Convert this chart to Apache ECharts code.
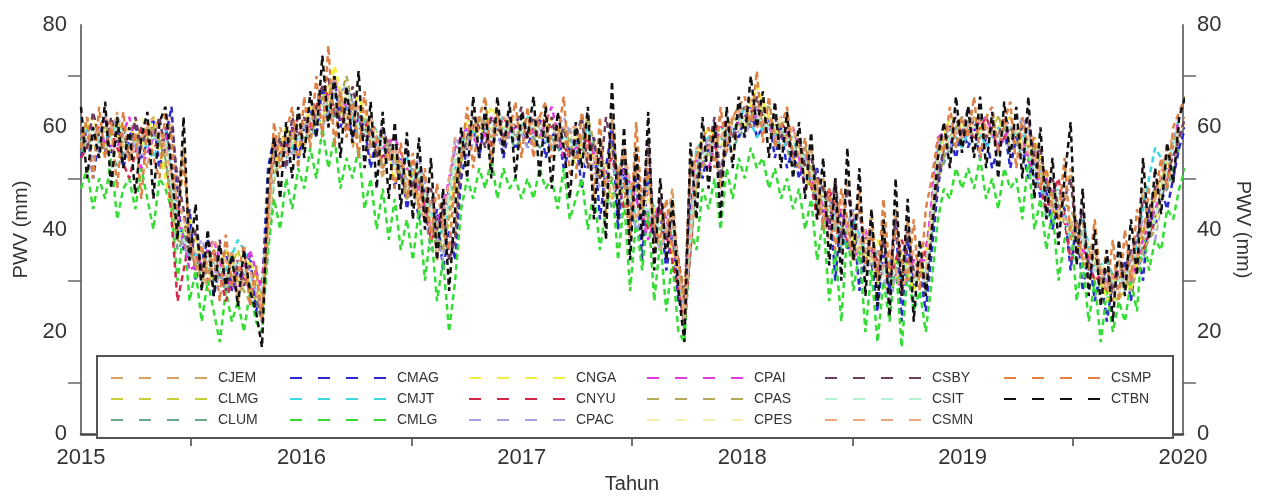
<!DOCTYPE html>
<html>
<head>
<meta charset="UTF-8">
<title>PWV 2015-2020</title>
<script src="https://cdn.jsdelivr.net/npm/echarts@6.0.0/dist/echarts.min.js"></script>
<style>
  html, body { margin: 0; padding: 0; background: #fff; }
  #chart { width: 1262px; height: 499px; }
</style>
</head>
<body>
<div id="chart"></div>
<script>
// axis ticks / labels
const yearLabels = [2015, 2016, 2017, 2018, 2019, 2020];
const yearTicks = [2015.5, 2016.5, 2017.5, 2018.5, 2019.5];
const pwvLabels = [0, 20, 40, 60, 80];
const pwvTicks = [10, 30, 50, 70];

// PWV (mm), one value every 10 days from 2015-01-01
const CJEM = [56,62,58,54,60,58,63,52,57,60,56,52,60,57,58,62,48,56,38,36,33,28,34,31,29,36,26,31,28,30,26,46,52,60,56,58,60,
  56,62,64,66,60,64,62,68,56,60,62,54,56,50,58,54,52,46,52,44,42,46,34,40,36,40,56,60,58,62,60,58,64,56,62,58,60,
  60,56,62,60,56,58,56,60,54,58,60,48,54,48,62,48,56,42,52,42,56,36,44,40,48,32,24,54,48,56,54,58,48,60,54,60,
  62,66,60,62,60,58,60,58,58,56,54,56,44,50,42,46,36,50,42,46,32,44,30,42,28,44,28,42,30,34,32,42,54,58,58,60,62,
  58,62,60,60,58,60,58,58,60,58,60,52,54,46,48,42,46,52,40,42,30,34,30,36,26,34,28,36,32,48,40,46,48,52,50,58,62];
const CMAG = [54,60,50,58,62,55,60,52,58,61,54,57,62,52,58,64,46,36,44,30,34,38,27,33,36,28,32,30,35,24,28,52,58,54,56,60,54,
  60,64,58,68,62,70,60,64,58,62,60,52,58,54,56,48,54,44,50,42,48,38,44,32,40,34,50,56,60,54,62,56,60,54,60,56,60,
  56,60,62,54,58,60,52,56,58,48,56,58,42,52,60,40,52,44,50,34,52,40,44,32,40,26,24,44,54,50,56,58,50,56,60,58,
  62,64,58,60,62,54,60,52,56,50,54,48,52,42,48,30,44,36,42,28,40,34,24,36,28,42,22,38,28,32,24,36,48,56,58,54,60,
  56,60,54,58,52,56,60,52,58,56,50,54,46,48,40,46,44,32,42,28,36,26,32,22,30,28,34,26,36,30,44,40,48,44,50,56,60];
const CMLG = [48,52,44,50,46,54,42,48,50,44,52,46,40,50,48,44,30,40,26,32,22,30,24,18,28,22,26,20,28,22,20,36,46,40,50,44,52,
  48,56,50,60,52,58,48,54,50,56,44,50,40,48,38,46,36,42,34,44,30,40,26,34,20,30,44,50,46,52,48,54,46,52,48,50,46,
  50,46,52,48,50,44,52,42,46,50,40,48,36,44,50,34,46,28,42,32,44,26,38,24,34,20,18,40,36,48,44,50,40,52,46,54,
  50,56,52,54,48,52,46,50,44,48,40,46,34,42,26,36,22,40,28,36,20,32,18,30,22,34,17,32,24,28,20,30,42,48,46,52,48,
  52,48,54,46,50,44,52,48,50,42,54,40,46,36,44,30,38,42,26,34,22,30,18,28,20,26,22,30,24,40,32,38,36,44,42,48,52];
const CSBY = [60,56,63,58,55,62,57,60,54,62,56,60,58,62,55,60,50,44,34,40,32,36,30,38,28,35,32,29,33,28,22,44,54,58,52,62,58,
  62,58,64,68,70,62,64,60,68,62,58,60,54,60,56,58,50,56,48,52,46,48,40,44,34,38,54,58,62,60,56,62,60,58,62,60,64,
  58,62,60,58,62,56,60,54,58,62,52,58,50,62,56,50,54,40,56,44,58,38,46,38,42,34,26,52,50,58,56,62,50,60,58,62,
  64,60,66,62,60,62,58,60,54,58,52,54,50,48,40,50,38,48,40,44,34,40,30,38,30,42,28,40,32,34,28,40,50,56,60,62,58,
  64,60,62,58,60,58,62,60,58,60,62,54,56,48,50,44,46,50,38,44,32,36,30,32,28,32,32,36,38,46,44,48,50,52,54,58,62];
const CSMP = [56,62,50,64,54,61,48,63,53,59,46,61,54,50,63,58,40,54,38,32,37,30,36,26,39,29,31,37,25,33,22,42,61,52,59,64,52,
  66,56,70,58,76,56,67,58,65,54,67,56,58,52,56,48,57,46,55,44,52,38,49,40,36,50,54,64,52,62,66,53,63,57,59,65,54,
  64,54,62,65,54,58,66,51,50,63,56,46,62,43,60,50,49,38,61,44,52,40,38,46,36,34,26,52,54,58,60,52,64,55,62,64,
  66,60,71,57,66,56,60,64,54,52,58,48,50,40,48,36,48,42,34,48,33,40,30,46,32,40,34,30,42,28,44,50,58,55,64,56,62,
  58,66,54,62,64,55,61,65,52,62,56,58,48,52,44,42,54,38,41,34,32,42,30,28,38,26,40,30,44,38,48,46,54,48,60,63,66];
const CTBN = [64,50,60,54,65,48,62,52,60,47,58,63,46,61,64,52,38,62,34,45,28,40,27,37,29,35,25,36,28,24,17,50,58,46,61,50,64,
  54,67,58,74,60,70,54,68,57,71,52,65,48,63,46,61,44,59,42,58,40,54,34,48,28,44,60,50,66,54,64,50,66,55,65,50,63,
  58,66,50,64,48,63,56,46,61,52,64,42,58,38,69,42,60,34,56,38,63,32,50,34,46,28,18,57,42,62,48,61,42,64,52,66,
  58,70,60,67,54,65,52,63,50,61,46,59,42,54,33,50,30,56,34,52,27,44,25,42,23,50,27,46,22,38,27,40,54,61,52,66,55,
  64,54,66,52,63,50,65,54,64,50,66,46,60,42,54,37,50,61,33,48,27,40,25,36,22,38,27,42,31,54,38,52,43,57,49,62,66];

// PWV (mm), one value every 20 days from 2015-01-01
const CLMG = [58,60,56,62,54,60,58,52,40,36,32,34,30,36,28,24,54,56,60,
  62,66,70,60,64,58,56,54,50,52,40,36,48,58,60,62,58,62,
  58,62,56,60,52,58,50,56,46,44,48,40,38,22,50,56,58,60,
  62,66,60,58,56,50,46,40,42,34,36,30,28,32,34,30,54,58,60,
  60,58,62,56,58,54,48,44,40,36,30,28,26,32,38,48,52,60];
const CLUM = [55,58,60,52,58,56,60,54,36,40,30,34,28,32,30,22,50,58,54,
  60,64,62,66,58,60,52,56,46,50,36,40,56,56,62,58,60,56,
  60,56,58,54,60,52,54,44,50,40,42,36,44,20,52,54,58,56,
  60,62,58,60,52,54,44,46,38,40,30,36,30,34,26,28,50,56,58,
  56,60,58,60,54,56,42,46,36,40,28,30,30,36,34,44,48,56];
const CMJT = [62,56,58,60,56,58,54,60,42,34,36,30,32,38,34,26,56,54,58,
  58,62,66,64,60,62,56,52,54,48,44,38,52,60,58,60,62,58,
  62,60,56,58,56,60,52,50,54,42,50,38,40,24,56,58,60,58,
  64,58,62,56,58,50,50,44,36,42,36,32,34,30,30,32,56,60,56,
  62,56,60,58,60,50,46,48,38,42,32,34,28,30,44,56,52,62];
const CNGA = [58,62,54,58,60,56,62,50,38,42,34,30,36,30,34,26,52,60,56,
  64,60,72,62,66,60,58,50,52,46,42,40,50,62,58,64,60,60,
  60,58,62,56,58,54,56,46,48,44,46,42,36,26,54,60,56,62,
  60,68,62,58,60,52,48,42,44,38,34,38,32,36,28,34,54,62,60,
  62,58,60,62,56,58,50,42,42,34,36,26,32,28,40,42,54,58];
const CNYU = [54,58,62,56,50,60,56,58,26,38,32,36,26,34,28,30,54,56,62,
  60,68,64,60,58,62,54,56,48,50,38,42,54,58,62,56,62,58,
  58,62,60,56,54,58,50,54,44,46,40,44,34,22,50,56,62,58,
  62,64,58,62,54,56,42,48,40,36,38,34,30,38,30,36,52,58,60,
  58,62,56,60,58,52,44,50,34,38,30,32,30,34,36,42,50,60];
const CPAC = [60,54,58,62,58,54,58,56,40,34,38,32,30,34,32,24,56,52,58,
  62,60,66,68,62,56,60,52,50,54,44,34,58,54,60,60,56,62,
  56,60,58,62,56,56,48,52,50,40,44,36,42,24,52,58,56,60,
  58,64,60,56,58,54,46,46,38,44,32,36,26,36,32,30,52,56,62,
  60,60,58,56,62,56,46,44,40,38,34,30,28,34,42,38,52,58];
const CPAI = [58,60,57,56,62,52,58,60,44,32,34,38,30,28,36,28,58,55,60,
  60,64,68,64,60,58,56,58,52,48,40,44,56,60,56,62,58,60,
  60,58,64,54,56,56,54,48,52,46,38,46,38,26,54,52,60,60,
  62,62,60,58,60,48,50,40,44,34,40,32,34,28,34,34,58,60,58,
  60,62,56,60,58,50,50,44,40,36,32,30,32,30,38,44,50,62];
const CPAS = [56,58,60,58,56,58,60,54,38,36,30,36,32,30,26,28,50,58,58,
  58,66,62,70,58,60,58,54,46,50,42,36,50,58,62,58,60,58,
  62,58,58,60,54,62,52,50,48,48,42,40,40,28,48,56,58,62,
  60,64,64,60,56,56,48,44,40,40,34,34,30,34,30,32,50,58,62,
  58,60,62,58,56,56,48,46,44,38,34,28,34,28,36,40,54,60];
const CPES = [60,56,60,54,60,62,56,56,42,38,34,32,34,32,30,26,54,58,60,
  62,62,68,66,62,62,54,52,52,44,44,38,52,60,60,60,58,62,
  58,62,60,58,58,52,56,48,46,42,46,38,42,24,54,54,60,58,
  62,66,58,62,58,52,50,42,42,36,38,30,32,32,32,30,54,58,60,
  60,58,60,58,60,54,52,46,38,40,34,32,28,32,40,40,52,58];
const CSIT = [57,60,56,60,58,56,58,58,40,36,36,34,30,34,30,28,52,56,58,
  60,64,66,68,60,58,56,56,48,52,42,40,54,58,58,60,60,58,
  60,60,58,58,56,56,52,52,48,44,44,40,40,26,52,56,58,60,
  62,62,60,60,56,54,48,44,40,40,36,34,30,34,30,32,54,58,60,
  60,60,58,60,58,52,48,44,40,38,32,30,30,32,38,42,52,60];
const CSMN = [60,58,62,58,54,58,62,56,46,38,30,38,34,28,32,24,58,54,62,
  64,62,70,62,64,62,52,56,50,46,40,42,58,56,62,58,62,60,
  60,62,56,60,60,54,54,46,56,42,48,36,44,22,56,56,58,62,
  64,60,62,56,60,50,48,38,46,34,40,30,36,28,36,30,56,60,58,
  62,60,58,62,56,54,46,42,42,34,36,28,34,30,40,46,56,60];

// name, values, sampling step (days), colour
const stations = [
  ['CJEM', CJEM, 10, '#d8a062'],
  ['CLMG', CLMG, 20, '#c8d038'],
  ['CLUM', CLUM, 20, '#6aa88c'],
  ['CMAG', CMAG, 10, '#2a2ad0'],
  ['CMJT', CMJT, 20, '#3cd8e0'],
  ['CMLG', CMLG, 10, '#33dd33'],
  ['CNGA', CNGA, 20, '#f2ee3a'],
  ['CNYU', CNYU, 20, '#d42848'],
  ['CPAC', CPAC, 20, '#a8a2e0'],
  ['CPAI', CPAI, 20, '#e23ce0'],
  ['CPAS', CPAS, 20, '#b2aa58'],
  ['CPES', CPES, 20, '#f2efb0'],
  ['CSBY', CSBY, 10, '#6e3e5e'],
  ['CSIT', CSIT, 20, '#b4f0d2'],
  ['CSMN', CSMN, 20, '#eca882'],
  ['CSMP', CSMP, 10, '#dd8244'],
  ['CTBN', CTBN, 10, '#111111']
];

const series = stations.map(([name, vals, step, color]) => ({
  name: name,
  type: 'line',
  data: vals.map((v, i) => [2015 + i * step / 365.25, v]),
  showSymbol: false,
  symbol: 'none',
  color: color,
  lineStyle: { color: color, width: 2.5, type: [6, 4] },
  animation: false
}));

// legend: 6 columns x 3 rows, filled column by column; icon = four dashes
const dashIcon = 'path://M0,0h12v2h-12zM28,0h12v2h-12zM56,0h12v2h-12zM84,0h12v2h-12z';
const legendLeft = [106, 285, 464, 642, 820, 999];
const legends = legendLeft.map((x, c) => ({
  data: stations.slice(c * 3, c * 3 + 3).map(s => ({ name: s[0], icon: dashIcon })),
  orient: 'vertical',
  left: x,
  top: 365,
  itemWidth: 96,
  itemHeight: 2,
  itemGap: 5,
  selectedMode: false,
  z: 10,
  textStyle: { fontFamily: 'Liberation Sans', fontSize: 14, color: '#333', padding: [0, 0, 0, 6], lineHeight: 16 }
}));

const axisFont = { fontFamily: 'Liberation Sans', fontSize: 22, color: '#333' };
const nameFont = { fontFamily: 'Liberation Sans', fontSize: 20, color: '#333' };

function yAxisOpt(pos) {
  return {
    type: 'value',
    position: pos,
    min: 0,
    max: 80,
    name: 'PWV (mm)',
    nameLocation: 'middle',
    nameGap: 50,
    nameRotate: pos === 'right' ? -90 : 90,
    nameTextStyle: nameFont,
    axisLine: { show: true, lineStyle: { color: '#777', width: 2 } },
    axisTick: { show: true, customValues: pwvTicks, length: 13, lineStyle: { color: '#666', width: 1.5 } },
    axisLabel: Object.assign({ customValues: pwvLabels, margin: 14 }, axisFont),
    splitLine: { show: false }
  };
}

const chart = echarts.init(document.getElementById('chart'));
chart.setOption({
  backgroundColor: '#fff',
  animation: false,
  grid: { left: 81, right: 79, top: 25, bottom: 60 },
  xAxis: {
    type: 'value',
    min: 2015,
    max: 2020,
    name: 'Tahun',
    nameLocation: 'middle',
    nameGap: 38,
    nameTextStyle: nameFont,
    axisLine: { lineStyle: { color: '#444', width: 2.5 } },
    axisTick: { show: true, customValues: yearTicks, length: 12, lineStyle: { color: '#444', width: 1.5 } },
    axisLabel: Object.assign({ customValues: yearLabels, margin: 13, formatter: v => String(v) }, axisFont),
    splitLine: { show: false }
  },
  yAxis: [yAxisOpt('left'), yAxisOpt('right')],
  legend: legends,
  graphic: [{
    type: 'rect',
    z: 5,
    shape: { x: 97, y: 356, width: 1076, height: 82 },
    style: { fill: '#fff', stroke: '#555', lineWidth: 2 }
  }],
  series: series
});
</script>
</body>
</html>
